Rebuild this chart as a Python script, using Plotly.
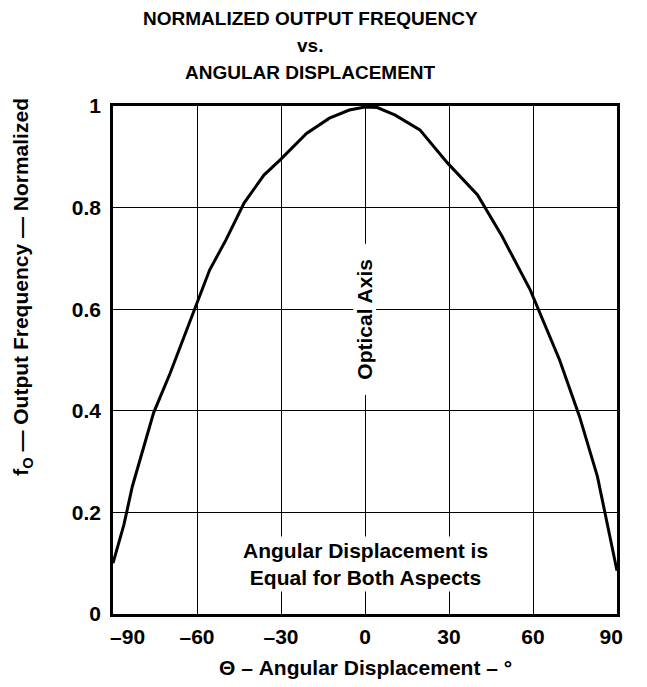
import plotly.graph_objects as go

# Data
angle_deg = [-90, -86.1, -83.1, -75.5, -69.6, -60.8, -55.5, -49.7, -43.2, -36.1, -30.3,
             -20.9, -12.7, -5.6, 0, 4.4, 10.8, 19.6, 29.6, 40.2, 49.0, 59.0, 69.5,
             76.6, 83.0, 90]
freq_norm = [0.10, 0.176, 0.251, 0.396, 0.474, 0.602, 0.677, 0.736, 0.809, 0.864, 0.894,
             0.946, 0.976, 0.992, 0.998, 0.997, 0.982, 0.953, 0.887, 0.825, 0.743, 0.638,
             0.500, 0.389, 0.271, 0.085]

NB = "\u00a0"
x_tickvals = [-90, -60, -30, 0, 30, 60, 90]
x_ticktext = [NB * 5 + "–90", "–60", "–30", "0", "30", "60", "90" + NB * 2]
y_tickvals = [0, 0.2, 0.4, 0.6, 0.8, 1]
y_ticktext = ["0", "0.2", "0.4", "0.6", "0.8", "1"]

title_lines = ["NORMALIZED OUTPUT FREQUENCY", "vs.", "ANGULAR DISPLACEMENT"]

FONT = "Liberation Sans"
FS = 21

fig = go.Figure()
fig.add_trace(go.Scatter(x=angle_deg, y=freq_norm, mode="lines",
                         line=dict(color="black", width=3), showlegend=False,
                         hoverinfo="skip"))

axis_common = dict(showgrid=True, gridcolor="black", gridwidth=1,
                   showline=True, linecolor="black", linewidth=2.5, mirror=True,
                   zeroline=False, ticks="",
                   tickfont=dict(family=FONT, size=FS, color="black", weight="bold"))

fig.update_xaxes(range=[-90, 90], tickvals=x_tickvals, ticktext=x_ticktext,
                 ticklabelstandoff=2, **axis_common)
fig.update_yaxes(range=[0, 1], tickvals=y_tickvals, ticktext=y_ticktext,
                 ticklabelstandoff=5, **axis_common)

annotations = []
for line, shift in zip(title_lines, [88, 61, 34]):
    annotations.append(dict(text="<b>" + line + "</b>", xref="paper", yref="paper",
                            x=0.391, y=1.0, yshift=shift, xanchor="center",
                            yanchor="middle", showarrow=False,
                            font=dict(family=FONT, size=19, color="black")))
annotations += [
    dict(text="<b>Θ – Angular Displacement – °</b>", xref="x", yref="paper",
         x=0, y=0, yshift=-53, xanchor="center", yanchor="middle", showarrow=False,
         font=dict(family=FONT, size=FS, color="black")),
    dict(text="<b>f<sub>O</sub> — Output Frequency — Normalized</b>", xref="paper",
         yref="paper", x=0, xshift=-91, y=0.644, xanchor="center", yanchor="middle",
         textangle=-90, showarrow=False,
         font=dict(family=FONT, size=FS, color="black")),
    dict(text="<b>Optical Axis</b>", xref="x", yref="y", x=0, y=0.58,
         textangle=-90, showarrow=False, bgcolor="white", borderpad=0,
         width=150, height=22,
         font=dict(family=FONT, size=FS, color="black")),
    dict(text="<b>Angular Displacement is<br>Equal for Both Aspects</b>", xref="x",
         yref="y", x=0, y=0.098, showarrow=False, bgcolor="white", borderpad=2,
         font=dict(family=FONT, size=FS, color="black"), align="center"),
]

fig.update_layout(width=639, height=679, margin=dict(l=105, r=23, t=98, b=73),
                  plot_bgcolor="white", paper_bgcolor="white",
                  annotations=annotations)

fig.write_html("out.html")
